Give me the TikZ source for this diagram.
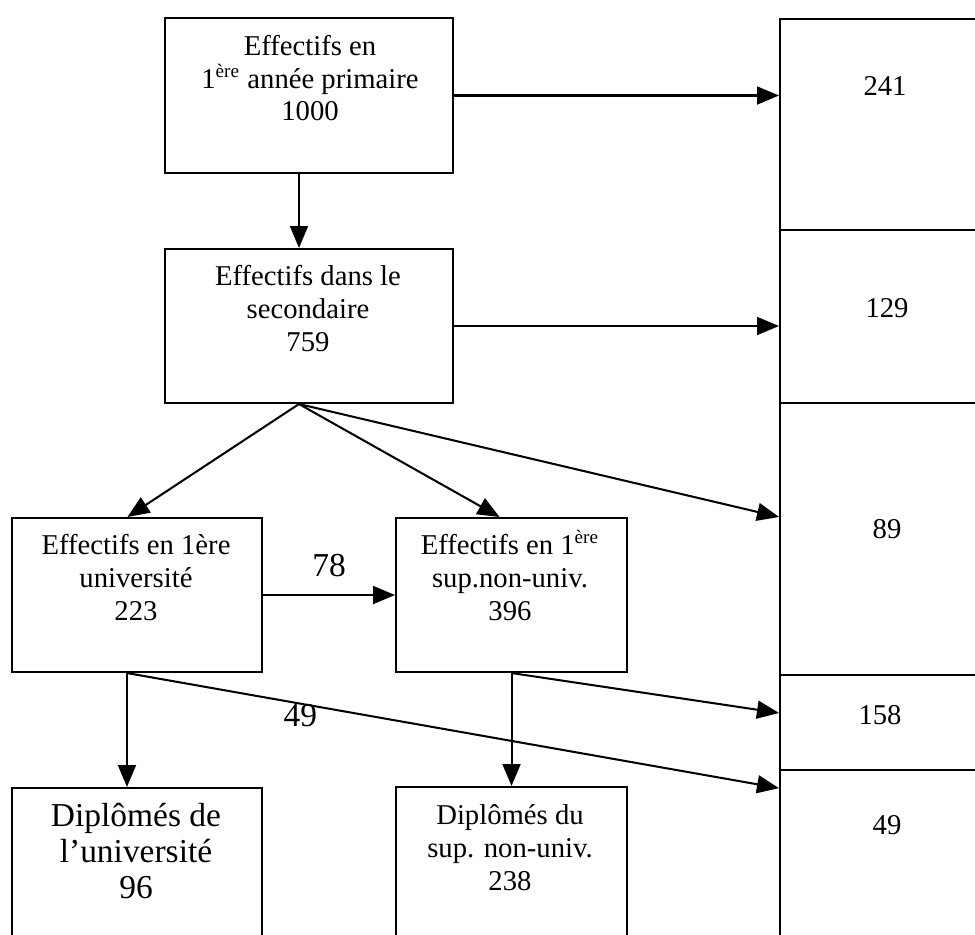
\documentclass[tikz,border=0pt]{standalone}
\usepackage{fontspec}
\setmainfont{Liberation Serif}
\usetikzlibrary{arrows.meta,positioning}
\newlength\pxu
\setlength\pxu{0.4184pt}
\begin{document}
\begin{tikzpicture}
  [x=0.4184pt, y=-0.4184pt,
   cell/.style={draw, line width=0.85pt, inner sep=0pt, anchor=north west},
   txt/.style={align=center, inner sep=0pt, anchor=base, font=\fontsize{12}{13.8}\selectfont},
   big/.style={font=\fontsize{14}{15}\selectfont},
   arr/.style={line width=0.85pt, -{Triangle[length=9.2pt, width=7.5pt]}}]
  \useasboundingbox (0,0) rectangle (975,934);
  \clip (0,0) rectangle (975,934);
  \node[cell, minimum width=288*\pxu, minimum height=155*\pxu] (prim) at (164,17) {};
  \node[cell, minimum width=288*\pxu, minimum height=154*\pxu] (sec) at (164,248) {};
  \node[cell, minimum width=250*\pxu, minimum height=154*\pxu] (univ) at (11,517) {};
  \node[cell, minimum width=231*\pxu, minimum height=154*\pxu] (sup) at (395,517) {};
  \node[cell, minimum width=250*\pxu, minimum height=170*\pxu] (dipu) at (11,787) {};
  \node[cell, minimum width=231*\pxu, minimum height=170*\pxu] (dips) at (395,786) {};
  \node[cell, minimum width=220*\pxu, minimum height=211*\pxu] (r1) at (779,18) {};
  \node[cell, minimum width=220*\pxu, minimum height=173*\pxu] (r2) at (779,229) {};
  \node[cell, minimum width=220*\pxu, minimum height=272*\pxu] (r3) at (779,402) {};
  \node[cell, minimum width=220*\pxu, minimum height=95*\pxu] (r4) at (779,674) {};
  \node[cell, minimum width=220*\pxu, minimum height=180*\pxu] (r5) at (779,769) {};

  \node[txt] (tprim) at (310,121) {Effectifs en\\1\textsuperscript{ère} année primaire\\1000};
  \node[txt] (tsec) at (308,351) {Effectifs dans le\\secondaire\\759};
  \node[txt] (tuniv) at (136,620) {Effectifs en 1ère\\université\\223};
  \node[txt] (tsup) at (510,620) {Effectifs en 1\textsuperscript{ère}\\sup.non-univ.\\396};
  \node[txt, big] (tdipu) at (136,898) {Diplômés de\\l’université\\96};
  \node[txt] (tdips) at (510,890) {Diplômés du\\sup. non-univ.\\238};
  \node[txt] (n241) at (885,96) {241};
  \node[txt] (n129) at (887,317) {129};
  \node[txt] (n89) at (887,538) {89};
  \node[txt] (n158) at (880,724) {158};
  \node[txt] (n49) at (887,834) {49};

  \coordinate (fan) at ([xshift=-4.2pt]sec.south);
  \draw[arr] (prim.east) -- (prim.east -| r1.west);
  \draw[arr] ([xshift=-4.2pt]prim.south) -- ([xshift=-4.2pt]sec.north);
  \draw[arr] (sec.east) -- (sec.east -| r2.west);
  \draw[arr] (fan) -- ([xshift=-4pt]univ.north);
  \draw[arr] (fan) -- ([xshift=-5pt]sup.north);
  \draw[arr] (fan) -- (r3.west |- sup.north);
  \draw[arr] (univ) -- node[big, inner sep=0pt, above=7pt] (l78) {78} (sup);
  \draw[arr] ([xshift=-4.2pt]univ.south) -- ([xshift=-4.2pt]dipu.north);
  \draw[arr] ([xshift=-4.2pt]univ.south) -- node[big, inner sep=0pt, pos=0.266, below=0pt] (l49) {49} ([yshift=-8pt]r5.north west);
  \draw[arr] (sup.south) -- (dips.north);
  \draw[arr] (sup.south) -- ([yshift=4pt]r4.west);
\end{tikzpicture}
\end{document}
